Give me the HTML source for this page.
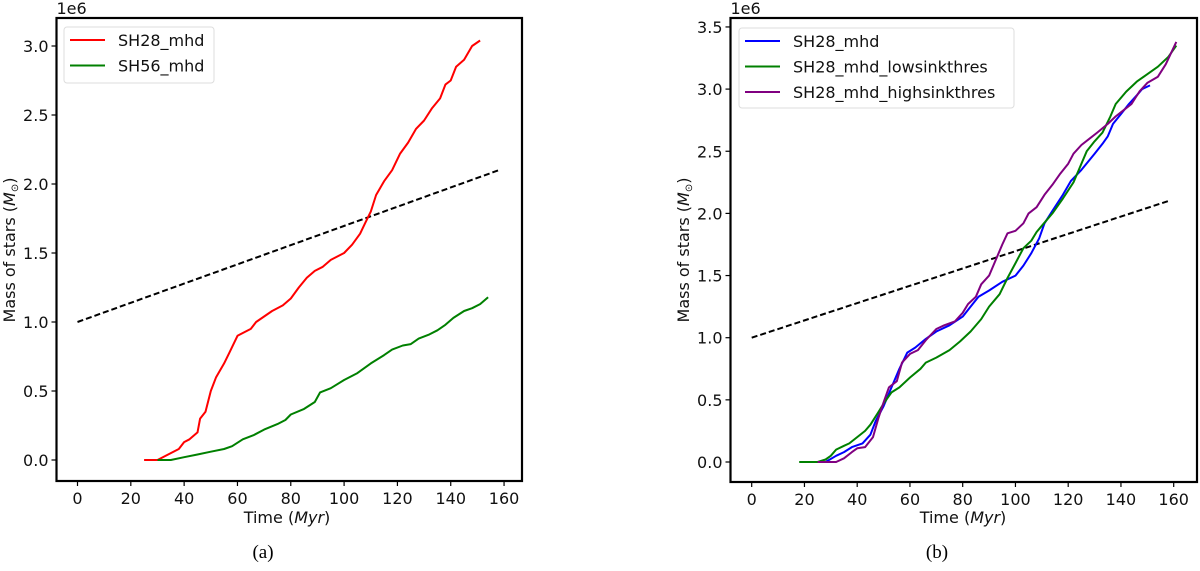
<!DOCTYPE html>
<html><head><meta charset="utf-8"><style>
html,body{margin:0;padding:0;background:#fff;}
svg{display:block;font-family:"DejaVu Sans","Liberation Sans",sans-serif;}
</style></head><body>
<svg id="chart" width="1200" height="571" viewBox="0 0 1200 571"></svg>
<script>
// ---- data ----
const xTicks=[0,20,40,60,80,100,120,140,160];
const yTicksA=[0,0.5,1.0,1.5,2.0,2.5,3.0];
const yTicksB=[0,0.5,1.0,1.5,2.0,2.5,3.0,3.5];
const dashT=[0,158];
const dashV=[1.0,2.1];
const aRedT=[25,30,35,38,40,42,45,46,48,50,52,55,57,60,62,65,67,70,73,77,80,83,86,89,92,95,100,103,106,108,110,112,115,118,121,124,127,130,133,136,138,140,142,145,148,151];
const aRedV=[0,0,0.05,0.08,0.13,0.15,0.2,0.3,0.35,0.5,0.6,0.7,0.78,0.9,0.92,0.95,1.0,1.04,1.08,1.12,1.17,1.25,1.32,1.37,1.4,1.45,1.5,1.56,1.64,1.72,1.8,1.92,2.02,2.1,2.22,2.3,2.4,2.46,2.55,2.62,2.72,2.75,2.85,2.9,3.0,3.04];
const aGreenT=[30,35,40,45,50,55,58,62,66,70,75,78,80,85,89,91,95,100,105,110,115,118,122,125,128,132,135,138,141,145,148,151,154];
const aGreenV=[0,0,0.02,0.04,0.06,0.08,0.1,0.15,0.18,0.22,0.26,0.29,0.33,0.37,0.42,0.49,0.52,0.58,0.63,0.7,0.76,0.8,0.83,0.84,0.88,0.91,0.94,0.98,1.03,1.08,1.1,1.13,1.18];
const bBlueT=[24,28,32,35,38,42,45,47,50,53,56,59,62,66,70,75,80,83,86,90,95,100,103,106,109,111,114,118,121,125,130,133,135,137,140,143,146,148,151];
const bBlueV=[0,0,0.05,0.08,0.12,0.15,0.22,0.33,0.45,0.6,0.75,0.88,0.92,0.99,1.05,1.1,1.17,1.25,1.33,1.38,1.45,1.5,1.58,1.68,1.8,1.92,2.02,2.15,2.26,2.35,2.48,2.56,2.62,2.72,2.8,2.88,2.95,3.0,3.03];
const bGreenT=[18,25,28,30,32,35,37,40,43,45,48,50,53,56,60,64,66,70,75,79,83,87,90,94,97,100,103,106,108,110,114,118,122,124,127,130,133,136,138,142,146,150,154,158,161];
const bGreenV=[0,0,0.02,0.05,0.1,0.13,0.15,0.2,0.25,0.3,0.4,0.47,0.56,0.6,0.68,0.75,0.8,0.84,0.9,0.97,1.05,1.15,1.25,1.35,1.48,1.6,1.72,1.78,1.85,1.9,2.0,2.12,2.25,2.35,2.5,2.58,2.65,2.78,2.88,2.98,3.06,3.12,3.18,3.26,3.35];
const bPurpleT=[25,32,35,38,40,43,46,48,50,52,55,57,60,63,66,70,73,77,80,82,85,87,90,92,95,97,100,103,105,108,111,114,117,120,122,125,128,131,135,138,141,144,147,150,154,157,161];
const bPurpleV=[0,0,0.03,0.08,0.11,0.12,0.2,0.35,0.48,0.6,0.65,0.8,0.87,0.9,0.98,1.07,1.1,1.13,1.2,1.27,1.33,1.43,1.5,1.6,1.75,1.84,1.86,1.92,2.0,2.05,2.15,2.23,2.32,2.4,2.48,2.55,2.6,2.65,2.72,2.78,2.83,2.88,2.98,3.05,3.1,3.2,3.38];

const NS='http://www.w3.org/2000/svg';
const svg=document.getElementById('chart');
function mk(tag,attrs,parent){const e=document.createElementNS(NS,tag);for(const k in attrs)e.setAttribute(k,attrs[k]);(parent||svg).appendChild(e);return e;}

function panel(p){
  const g=mk('g',{});
  
  
  const X=t=>p.x0+t*p.kx, Y=v=>p.y0-v*p.ky;
  xTicks.forEach(t=>{
    mk('line',{x1:X(t),x2:X(t),y1:p.bottom,y2:p.bottom+5,stroke:'#000','stroke-width':1.2},g);
    const tx=mk('text',{x:X(t),y:p.bottom+23,'font-size':16,'text-anchor':'middle',fill:'#111'},g);
    tx.textContent=String(t);
    
    
  });
  p.yTicks.forEach(v=>{
    mk('line',{x1:p.left-5,x2:p.left,y1:Y(v),y2:Y(v),stroke:'#000','stroke-width':1.2},g);
    const tx=mk('text',{x:p.left-8,y:Y(v)+6,'font-size':16,'text-anchor':'end',fill:'#111'},g);
    tx.textContent=v.toFixed(1);
    
    
  });
  const d=mk('polyline',{points:dashT.map((t,i)=>X(t)+','+Y(dashV[i])).join(' '),fill:'none',stroke:'#000','stroke-width':2,'stroke-dasharray':'6,3'},g);
  
  
  p.series.forEach(s=>{
    const l=mk('polyline',{points:s.t.map((t,i)=>X(t).toFixed(1)+','+Y(s.v[i]).toFixed(1)).join(' '),fill:'none',stroke:s.color,'stroke-width':2,'stroke-linejoin':'round'},g);
    
    
  });
  const f=mk('rect',{x:p.left,y:p.top,width:p.right-p.left,height:p.bottom-p.top,fill:'none',stroke:'#000','stroke-width':2.2},g);
  
  
  const lg=mk('g',{},g);
  
  
  mk('rect',{x:p.leg.x,y:p.leg.y,width:p.leg.w,height:p.leg.h,rx:3,fill:'#fff',stroke:'#ddd','stroke-width':1},lg);
  p.series.forEach((s,i)=>{
    const yy=p.leg.y+13+i*25.5;
    mk('line',{x1:p.leg.x+6,x2:p.leg.x+41,y1:yy,y2:yy,stroke:s.color,'stroke-width':2},lg);
    const tx=mk('text',{x:p.leg.x+54,y:yy+6,'font-size':16,fill:'#111'},lg);
    tx.textContent=s.label;
    
    
  });
  const e6=mk('text',{x:p.left,y:p.top-4,'font-size':16,fill:'#111'},g);e6.textContent='1e6';
  
  
  const xl=mk('text',{x:p.xlabX,y:523,'font-size':16,'text-anchor':'middle',fill:'#111'},g);
  xl.innerHTML='Time (<tspan font-style="italic">Myr</tspan>)';
  
  
  const yl=mk('text',{x:0,y:0,'font-size':16,'text-anchor':'middle',fill:'#111',transform:`translate(${p.ylabX},250) rotate(-90)`},g);
  yl.innerHTML='Mass of stars (<tspan font-style="italic">M</tspan><tspan font-size="10" dy="3">⊙</tspan><tspan dy="-3">)</tspan>';
  
  
  const cap=mk('text',{x:p.capX,y:558,'font-size':19,'text-anchor':'middle',fill:'#000','font-family':'Liberation Serif,serif'},g);
  cap.textContent=p.cap;
  
  
}

panel({name:'panel-a',left:56.5,right:522,top:18,bottom:481,x0:77.5,kx:2.666,y0:460,ky:138,yTicks:yTicksA,
  leg:{x:64,y:27,w:150,h:56},xlabX:287,ylabX:15,capX:263,cap:'(a)',
  series:[{label:'SH28_mhd',color:'#ff0000',t:aRedT,v:aRedV},{label:'SH56_mhd',color:'#008000',t:aGreenT,v:aGreenV}]});
panel({name:'panel-b',left:730.5,right:1197,top:18,bottom:482,x0:751.7,kx:2.6375,y0:462,ky:124.3,yTicks:yTicksB,
  leg:{x:739,y:28,w:275,h:80},xlabX:963,ylabX:689,capX:937,cap:'(b)',
  series:[{label:'SH28_mhd',color:'#0000ff',t:bBlueT,v:bBlueV},{label:'SH28_mhd_lowsinkthres',color:'#008000',t:bGreenT,v:bGreenV},{label:'SH28_mhd_highsinkthres',color:'#800080',t:bPurpleT,v:bPurpleV}]});
</script>
</body></html>
